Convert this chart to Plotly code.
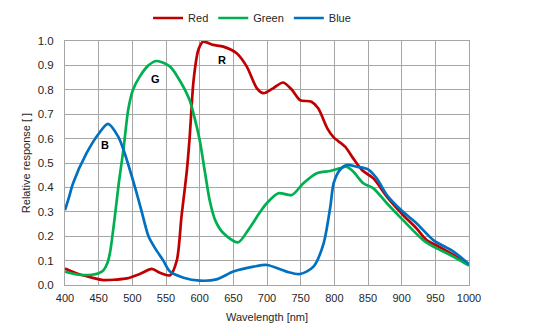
import plotly.graph_objects as go

red_x = [400, 420, 440, 457, 475, 492, 511, 529, 541, 556, 566, 573, 581, 585, 591, 598, 605, 620, 635, 655, 670, 685, 695, 709, 724, 737, 749, 766, 776, 790, 799, 816, 828, 841, 858, 878, 902, 922, 937, 950, 977, 1000]
red_y = [0.068, 0.045, 0.030, 0.020, 0.022, 0.027, 0.045, 0.066, 0.050, 0.040, 0.100, 0.280, 0.470, 0.600, 0.840, 0.963, 0.997, 0.984, 0.977, 0.950, 0.895, 0.806, 0.786, 0.806, 0.830, 0.800, 0.758, 0.751, 0.724, 0.640, 0.605, 0.567, 0.519, 0.471, 0.437, 0.362, 0.287, 0.232, 0.184, 0.165, 0.123, 0.082]

green_x = [400, 420, 440, 450, 457, 463, 467, 474, 480, 487, 494, 501, 511, 524, 536, 556, 570, 585, 592, 600, 608, 615, 623, 635, 657, 672, 690, 700, 717, 737, 754, 774, 794, 808, 818, 828, 843, 858, 878, 902, 932, 947, 972, 1000]
green_y = [0.055, 0.042, 0.042, 0.048, 0.060, 0.090, 0.135, 0.280, 0.420, 0.560, 0.720, 0.800, 0.854, 0.900, 0.918, 0.895, 0.840, 0.758, 0.690, 0.594, 0.460, 0.345, 0.266, 0.213, 0.175, 0.225, 0.300, 0.336, 0.376, 0.369, 0.417, 0.458, 0.467, 0.478, 0.485, 0.465, 0.417, 0.396, 0.335, 0.266, 0.184, 0.157, 0.123, 0.080]

blue_x = [400, 406, 412, 432, 450, 464, 479, 487, 504, 514, 524, 534, 546, 556, 576, 600, 625, 650, 680, 700, 729, 749, 769, 784, 794, 799, 808, 818, 833, 850, 863, 878, 902, 922, 947, 977, 1000]
blue_y = [0.307, 0.360, 0.417, 0.540, 0.620, 0.660, 0.608, 0.553, 0.400, 0.300, 0.200, 0.150, 0.100, 0.055, 0.030, 0.018, 0.023, 0.055, 0.075, 0.082, 0.055, 0.045, 0.075, 0.170, 0.320, 0.417, 0.471, 0.492, 0.485, 0.474, 0.437, 0.369, 0.300, 0.253, 0.184, 0.137, 0.085]

series_names = ["Red", "Green", "Blue"]
series_colors = ["#C00000", "#00B050", "#0070C0"]

label_text = ["B", "G", "R"]
label_x = [460, 534, 633]
label_y = [0.575, 0.845, 0.922]

x_ticks = [400, 450, 500, 550, 600, 650, 700, 750, 800, 850, 900, 950, 1000]
y_ticks = [0.0, 0.1, 0.2, 0.3, 0.4, 0.5, 0.6, 0.7, 0.8, 0.9, 1.0]

font_family = "Liberation Sans, Arial, sans-serif"
txt = "#262626"

fig = go.Figure()
for name, color, xs, ys in zip(series_names, series_colors,
                               [red_x, green_x, blue_x], [red_y, green_y, blue_y]):
    fig.add_trace(go.Scatter(x=xs, y=ys, mode="lines", name=name,
                             line=dict(color=color, width=2.7, shape="spline", smoothing=0.8)))

for t, lx, ly in zip(label_text, label_x, label_y):
    fig.add_annotation(x=lx, y=ly, text="<b>" + t + "</b>", showarrow=False,
                       font=dict(family=font_family, size=11, color="#000000"))

grid = "#A6A6A6"
fig.update_layout(
    width=554, height=331,
    margin=dict(l=65, r=85, t=41, b=46, autoexpand=False),
    paper_bgcolor="white", plot_bgcolor="white",
    font=dict(family=font_family, size=11, color=txt),
    legend=dict(orientation="h", x=0.455, xanchor="center", xref="container",
                y=1 - 18 / 331, yanchor="middle", yref="container",
                font=dict(size=11, color=txt), itemwidth=30, tracegroupgap=0,
                bgcolor="rgba(0,0,0,0)"),
    xaxis=dict(range=[400, 1000], tickvals=x_ticks, ticktext=[str(v) for v in x_ticks],
               showgrid=True, gridcolor=grid, gridwidth=1, zeroline=False,
               showline=True, linecolor=grid, linewidth=1, mirror=True, automargin=False,
               ticks="", ticklabelstandoff=3, tickfont=dict(size=11, color=txt),
               title=dict(text="Wavelength [nm]", font=dict(size=11, color=txt), standoff=10)),
    yaxis=dict(range=[0, 1.0], tickvals=y_ticks, ticktext=["%.1f" % v for v in y_ticks],
               showgrid=True, gridcolor=grid, gridwidth=1, zeroline=False,
               showline=True, linecolor=grid, linewidth=1, mirror=True, automargin=False,
               ticks="", ticklabelstandoff=8, tickfont=dict(size=11.5, color=txt),
               title=dict(text="Relative response [ ]", font=dict(size=11, color=txt), standoff=4)),
)

fig.write_html("out.html")
